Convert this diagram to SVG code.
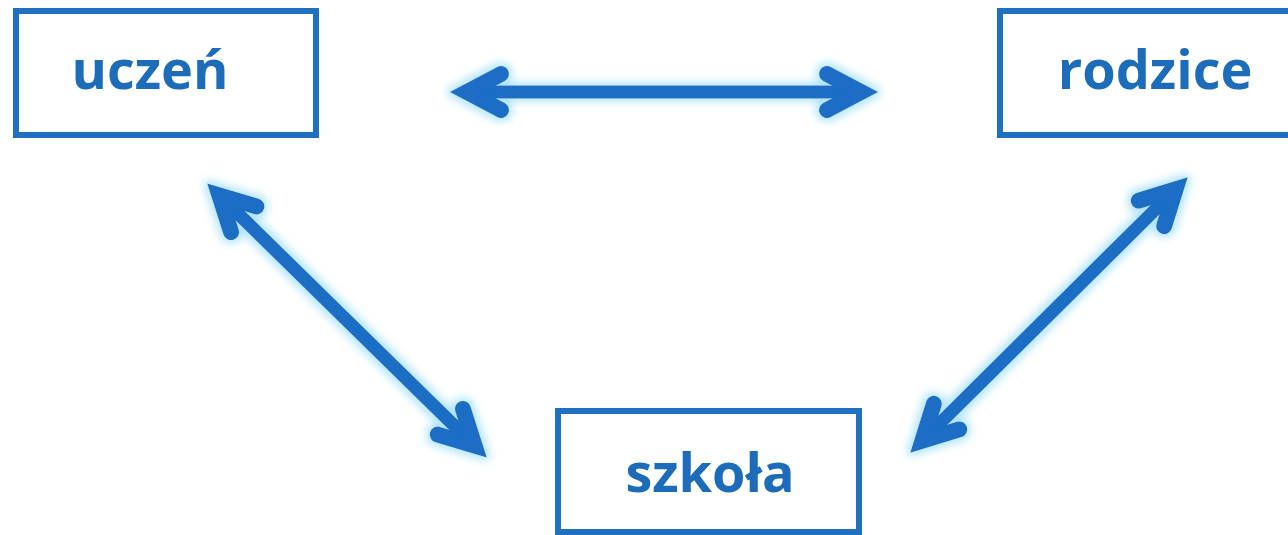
<svg xmlns="http://www.w3.org/2000/svg" width="1288" height="535" viewBox="0 0 1288 535">
  <style>
    .box { fill: #ffffff; stroke: #1f70c1; stroke-width: 6; }
    .label { font-family: "Open Sans", "Liberation Sans", sans-serif; font-weight: 700; font-size: 54px; fill: #1d6cb9; text-anchor: middle; }
    .conn { fill: none; stroke: #1a6ec4; stroke-width: 13; stroke-linecap: butt; }
  </style>
  <defs>
    <filter id="glow" x="-20%" y="-20%" width="140%" height="140%">
      <feMorphology in="SourceAlpha" operator="dilate" radius="3" result="d"/>
      <feGaussianBlur in="d" stdDeviation="4" result="b"/>
      <feFlood flood-color="#a8e2ff" flood-opacity="0.9"/>
      <feComposite in2="b" operator="in" result="g"/>
      <feMerge>
        <feMergeNode in="g"/>
        <feMergeNode in="SourceGraphic"/>
      </feMerge>
    </filter>
    <marker id="head" markerUnits="userSpaceOnUse" orient="auto-start-reverse" refX="0" refY="0" markerWidth="80" markerHeight="80" viewBox="-60 -40 80 80" overflow="visible">
      <path d="M -36 -18 L -2 0 L -36 18" fill="none" stroke="#1a6ec4" stroke-width="16" stroke-linecap="round" stroke-linejoin="miter" stroke-miterlimit="10"/>
    </marker>
  </defs>
  <rect width="1288" height="535" fill="#ffffff"/>
  <g id="connectors" filter="url(#glow)">
    <line class="conn" x1="465" y1="92" x2="863" y2="92" marker-start="url(#head)" marker-end="url(#head)"/>
    <line class="conn" x1="218" y1="194" x2="476" y2="447" marker-start="url(#head)" marker-end="url(#head)"/>
    <line class="conn" x1="921" y1="442" x2="1177" y2="188" marker-start="url(#head)" marker-end="url(#head)"/>
  </g>
  <g id="uczen">
    <rect class="box" x="16" y="11" width="300" height="124"/>
    <text class="label" x="150" y="89">uczeń</text>
  </g>
  <g id="rodzice">
    <rect class="box" x="1000" y="11" width="300" height="124"/>
    <text class="label" x="1155" y="89">rodzice</text>
  </g>
  <g id="szkola">
    <rect class="box" x="558" y="411" width="301" height="121"/>
    <text class="label" x="710" y="492">szkoła</text>
  </g>
</svg>
